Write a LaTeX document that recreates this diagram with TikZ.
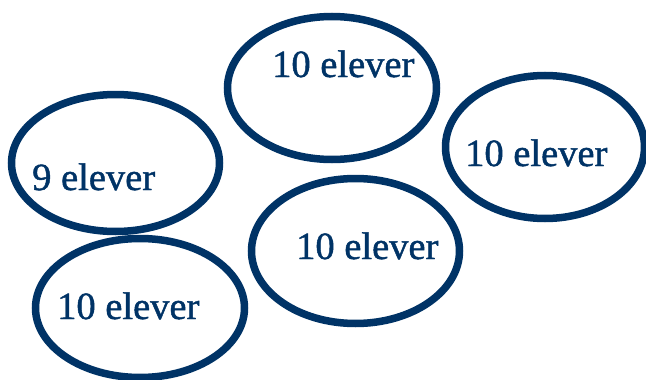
\documentclass[tikz,border=0pt]{standalone}
\usepackage{fontspec}
\setmainfont[FakeBold=1.2]{Liberation Serif}
\usetikzlibrary{shapes.geometric}
\definecolor{navy}{HTML}{003366}
\tikzset{
  ring/.style={ellipse, draw=navy, line width=7.5pt, inner sep=0pt},
  lbl/.style={anchor=base west, inner sep=0pt, text=navy, font=\fontsize{38.5}{40}\selectfont}
}
\begin{document}
\begin{tikzpicture}[x=1pt,y=-1pt]
\useasboundingbox (0,0) rectangle (646,380);
\node[ring, minimum width=209pt, minimum height=143pt] (e1) at (332,88) {};
\node[ring, minimum width=208pt, minimum height=137pt] (e2) at (115.5,163) {};
\node[ring, minimum width=199pt, minimum height=143pt] (e3) at (545,147) {};
\node[ring, minimum width=208pt, minimum height=145pt] (e4) at (355.5,251) {};
\node[ring, minimum width=209pt, minimum height=139pt] (e5) at (140,308) {};
\node[lbl] (t1) at (272,77) {10 elever};
\node[lbl] (t2) at (32,190) {9 elever};
\node[lbl] (t3) at (465,166) {10 elever};
\node[lbl] (t4) at (296,259) {10 elever};
\node[lbl] (t5) at (57,319) {10 elever};
\end{tikzpicture}
\end{document}
